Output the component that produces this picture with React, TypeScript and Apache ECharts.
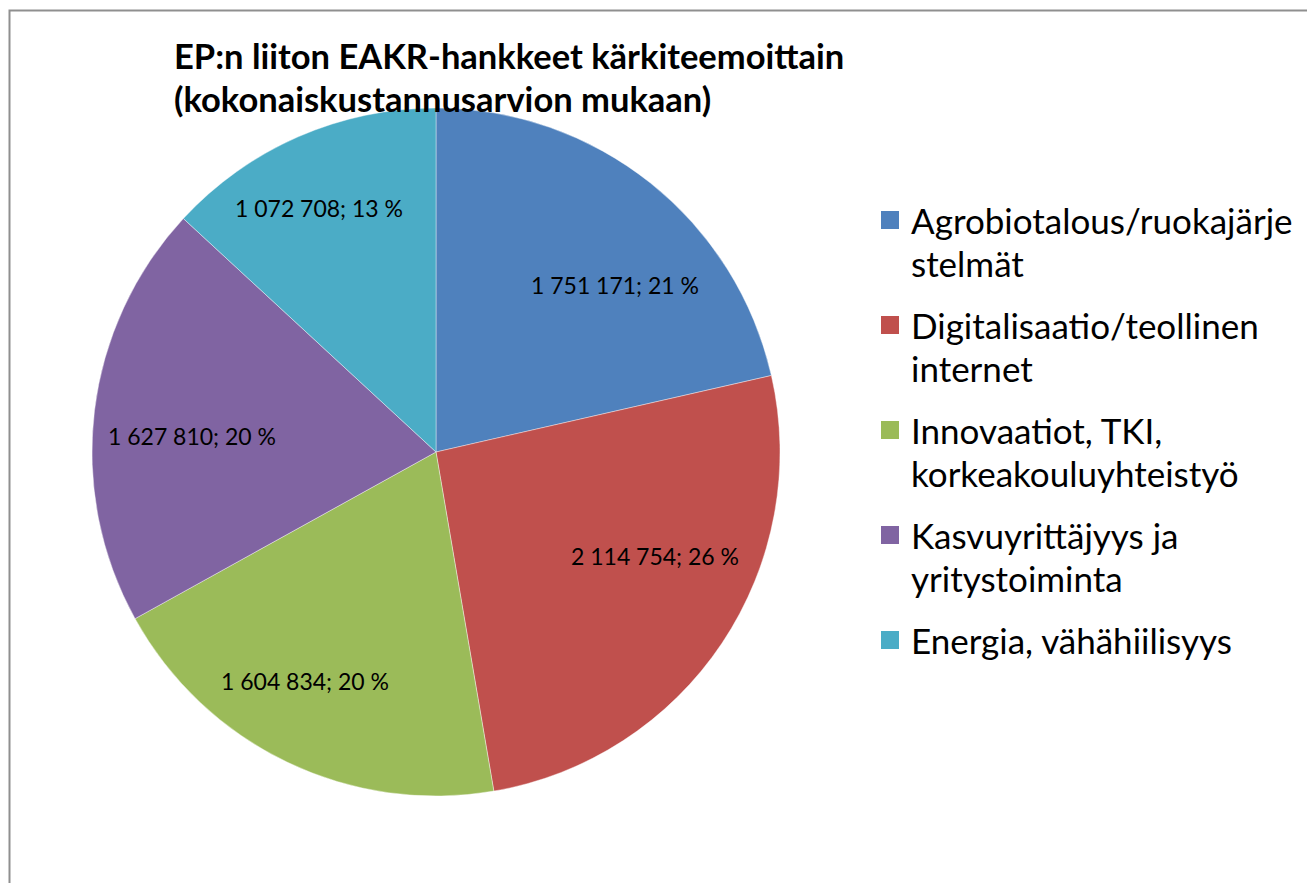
import React, { useEffect, useRef } from "react";
import * as echarts from "echarts";

const TITLE_LINES = ["EP:n liiton EAKR-hankkeet kärkiteemoittain", "(kokonaiskustannusarvion mukaan)"];
const CATEGORIES = [
  "Agrobiotalous/ruokajärjestelmät",
  "Digitalisaatio/teollinen internet",
  "Innovaatiot, TKI, korkeakouluyhteistyö",
  "Kasvuyrittäjyys ja yritystoiminta",
  "Energia, vähähiilisyys",
];
const LEGEND_LINES: string[][] = [
  ["Agrobiotalous/ruokajärje", "stelmät"],
  ["Digitalisaatio/teollinen", "internet"],
  ["Innovaatiot, TKI,", "korkeakouluyhteistyö"],
  ["Kasvuyrittäjyys ja", "yritystoiminta"],
  ["Energia, vähähiilisyys", " "],
];
const VALUES = [1751171, 2114754, 1604834, 1627810, 1072708];
const PERCENT_LABELS = ["21 %", "26 %", "20 %", "20 %", "13 %"];
const COLORS = ["#4F81BD", "#C0504D", "#9BBB59", "#8064A2", "#4BACC6"];
// label centre positions (layout)
const LABEL_POS: [number, number][] = [
  [615, 285],
  [655, 556],
  [305, 681],
  [192, 436],
  [319, 208],
];

const FONT = "Lato, 'Open Sans', 'DejaVu Sans', sans-serif";

function fmt(v: number): string {
  return String(v).replace(/\B(?=(\d{3})+(?!\d))/g, " ");
}

export default function App() {
  const ref = useRef<HTMLDivElement>(null);
  useEffect(() => {
    if (!ref.current) return;
    const chart = echarts.init(ref.current, undefined, { renderer: "svg" });
    const LH = 43;
    chart.setOption({
      animation: false,
      backgroundColor: "#ffffff",
      title: {
        text: TITLE_LINES.join("\n"),
        left: 174,
        top: 34,
        padding: 0,
        textStyle: {
          fontFamily: FONT,
          fontWeight: "bold",
          fontSize: 34.5,
          lineHeight: LH,
          color: "#000000",
        },
      },
      legend: {
        orient: "vertical",
        left: 879,
        top: 220 - 1.5 * LH,
        padding: 0,
        itemWidth: 20,
        itemHeight: 20,
        itemGap: 105 - 3 * LH,
        icon: "rect",
        data: CATEGORIES,
        formatter: (name: string) => {
          const i = CATEGORIES.indexOf(name);
          return [" ", ...LEGEND_LINES[i]].join("\n");
        },
        textStyle: {
          fontFamily: FONT,
          fontSize: 35,
          lineHeight: LH,
          color: "#000000",
          padding: [0, 0, 0, 6],
        },
      },
      graphic: [
        {
          type: "rect",
          shape: { x: 9.5, y: 10.5, width: 1400, height: 1000 },
          style: { fill: "none", stroke: "#8f8f8f", lineWidth: 2 },
          silent: true,
          z: 0,
        },
      ],
      series: [
        {
          type: "pie",
          center: [436, 452],
          radius: [0, 344],
          startAngle: 90,
          clockwise: true,
          data: CATEGORIES.map((name, i) => ({
            name,
            value: VALUES[i],
            itemStyle: { color: COLORS[i] },
          })),
          itemStyle: { borderColor: "#ffffff", borderWidth: 0.4 },
          label: {
            show: true,
            position: "inside",
            formatter: (p: any) => `${fmt(p.value)}; ${PERCENT_LABELS[p.dataIndex]}`,
            fontFamily: FONT,
            fontSize: 23,
            color: "#000000",
          },
          labelLayout: (p: any) => ({
            x: LABEL_POS[p.dataIndex][0],
            y: LABEL_POS[p.dataIndex][1],
            align: "center",
            verticalAlign: "middle",
          }),
          labelLine: { show: false },
          emphasis: { disabled: true },
        },
      ],
    });
    return () => chart.dispose();
  }, []);
  return (
    <div
      ref={ref}
      style={{ position: "absolute", left: 0, top: 0, width: 1307, height: 883 }}
    />
  );
}
